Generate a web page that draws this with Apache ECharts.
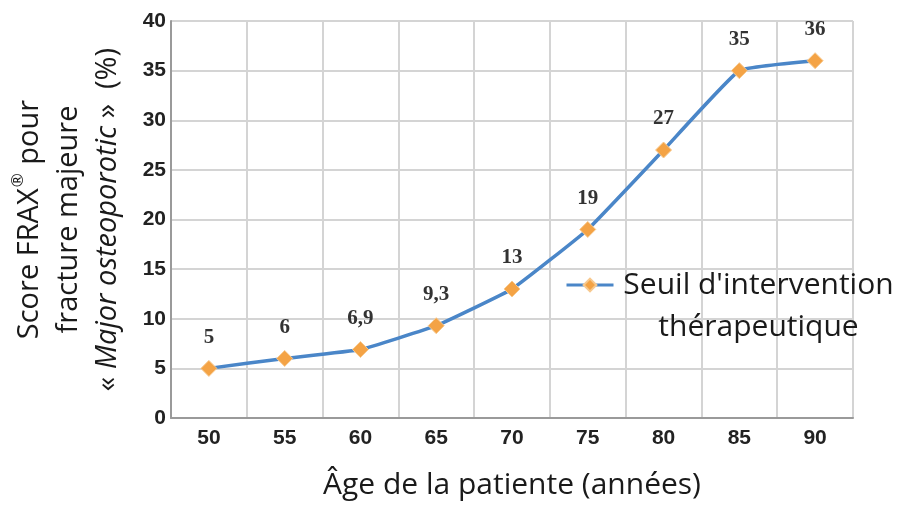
<!DOCTYPE html>
<html><head><meta charset="utf-8">
<script src="https://cdn.jsdelivr.net/npm/echarts@6/dist/echarts.min.js"></script>
<style>html,body{margin:0;padding:0;background:#fff}#c{width:899px;height:506px}</style>
</head><body><div id="c"></div>
<script>
const categories = ['50','55','60','65','70','75','80','85','90'];
const seuil = [5, 6, 6.9, 9.3, 13, 19, 27, 35, 36];
const yTicks = {min: 0, max: 40, interval: 5};
const seriesName = "Seuil d'intervention thérapeutique";

const chart = echarts.init(document.getElementById('c'));
chart.setOption({
  animation: false,
  grid: {left: 171, right: 46, top: 21, bottom: 88, outerBoundsMode: 'none', containLabel: false},
  xAxis: {
    type: 'category', data: categories, boundaryGap: true,
    name: 'Âge de la patiente (années)', nameLocation: 'middle', nameGap: 52,
    nameTextStyle: {fontFamily: 'Open Sans', fontSize: 30, color: '#1a1a1a'},
    axisLine: {lineStyle: {color: '#9a9a9a', width: 2}},
    axisTick: {show: false},
    axisLabel: {fontFamily: 'Liberation Sans', fontWeight: 'bold', fontSize: 21, color: '#222', margin: 10},
    splitLine: {show: true, lineStyle: {color: '#d4d4d4', width: 2}}
  },
  yAxis: {
    type: 'value', min: yTicks.min, max: yTicks.max, interval: yTicks.interval,
    name: 'Score FRAX{s|®} pour\nfracture majeure\n« {i|Major osteoporotic} »  (%)',
    nameLocation: 'middle', nameGap: 44, nameRotate: 90,
    nameTextStyle: {fontFamily: 'Open Sans', fontSize: 29, color: '#1a1a1a', lineHeight: 39,
      rich: {
        i: {fontFamily: 'Open Sans', fontStyle: 'italic', fontSize: 29, color: '#1a1a1a', lineHeight: 39},
        s: {fontFamily: 'Open Sans', fontSize: 17, color: '#1a1a1a', verticalAlign: 'top', lineHeight: 39, padding: [0, 1, 0, 1]}
      }},
    axisLine: {show: true, lineStyle: {color: '#9a9a9a', width: 2}},
    axisTick: {show: false},
    axisLabel: {fontFamily: 'Liberation Sans', fontWeight: 'bold', fontSize: 21, color: '#222', margin: 5},
    splitLine: {lineStyle: {color: '#d4d4d4', width: 2}}
  },
  legend: {
    left: 565, top: 228, padding: 0,
    itemWidth: 47, itemHeight: 16,
    lineStyle: {width: 3},
    formatter: function () { return '{a| }\n{a|Seuil d\'intervention}\n{a|thérapeutique}'; },
    textStyle: {
      rich: {a: {fontFamily: 'Open Sans', fontSize: 30, color: '#1a1a1a', lineHeight: 42, width: 280, align: 'center'}}
    },
    data: [seriesName]
  },
  series: [{
    name: seriesName, type: 'line', data: seuil, smooth: 0.1,
    lineStyle: {color: '#4a86c8', width: 3.5},
    itemStyle: {color: '#f4a345', borderColor: '#f7c98f', borderWidth: 1},
    symbol: 'diamond', symbolSize: 16,
    label: {
      show: true, position: 'top', distance: 12,
      fontFamily: 'Liberation Serif', fontWeight: 'bold', fontSize: 21, color: '#333',
      formatter: p => String(p.value).replace('.', ',')
    }
  }]
});
</script></body></html>
